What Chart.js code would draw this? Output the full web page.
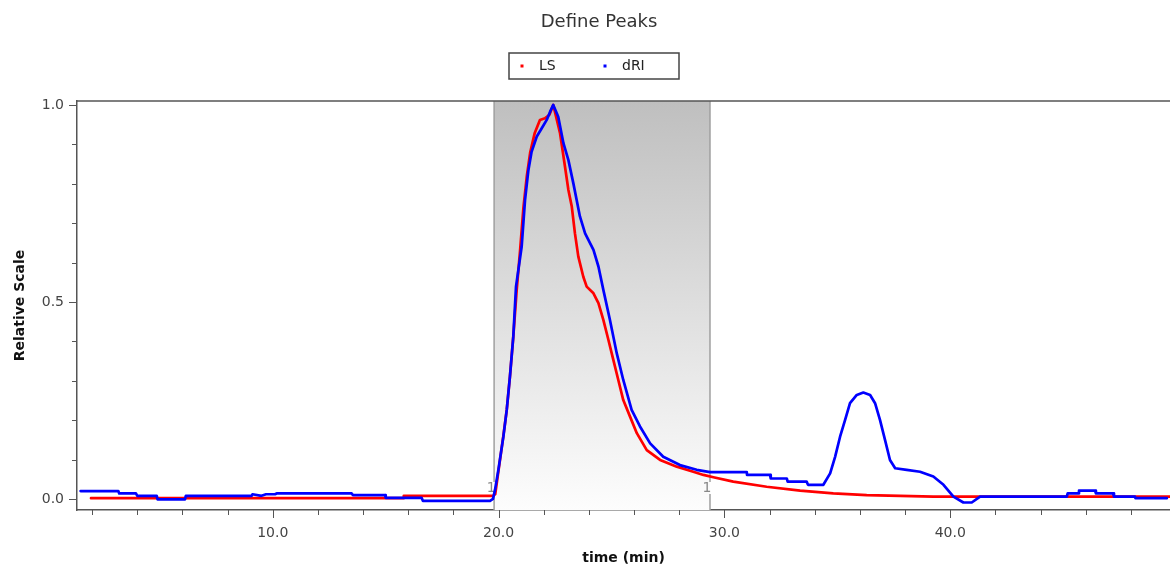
<!DOCTYPE html>
<html>
<head>
<meta charset="utf-8">
<title>Define Peaks</title>
<script src="https://cdn.jsdelivr.net/npm/chart.js@4.4.1/dist/chart.umd.min.js"></script>
<style>
  html, body { margin: 0; padding: 0; background: #fff; }
  #wrap { width: 1170px; height: 570px; }
</style>
</head>
<body>
<div id="wrap"><canvas id="peaksChart" width="1170" height="570"></canvas></div>
<script>
// data
const chartTitle = 'Define Peaks';
const seriesNames = ['LS', 'dRI'];
const seriesColors = ['#ff0000', '#0000ff'];

const lsTime = [1.95, 15.77, 15.8, 19.75, 19.85, 19.99, 20.21, 20.36, 20.5, 20.65, 20.8, 20.95, 21.1, 21.25, 21.4,
  21.6, 21.83, 22.05, 22.25, 22.42, 22.72, 22.94, 23.09, 23.24, 23.38, 23.53, 23.75, 23.9, 24.2, 24.42, 24.64,
  24.86, 25.08, 25.3, 25.52, 25.82, 26.12, 26.56, 27.15, 27.89, 28.62, 29.07, 29.51, 30.39, 31.87, 33.35,
  34.82, 36.3, 37.78, 39.25, 41.32, 45.0, 49.73];
const lsValue = [0.002, 0.002, 0.008, 0.008, 0.012, 0.07, 0.16, 0.226, 0.31, 0.412, 0.53, 0.63, 0.74, 0.82, 0.88,
  0.929, 0.962, 0.966, 0.975, 1.0, 0.928, 0.843, 0.784, 0.742, 0.674, 0.615, 0.564, 0.539, 0.522, 0.497, 0.454,
  0.404, 0.353, 0.302, 0.251, 0.209, 0.167, 0.124, 0.099, 0.082, 0.069, 0.061, 0.055, 0.044, 0.031, 0.021,
  0.014, 0.010, 0.008, 0.006, 0.006, 0.006, 0.006];

const driTime = [1.49, 3.16, 3.2, 3.94, 4.0, 4.86, 4.9, 6.11, 6.15, 9.07, 9.1, 9.5, 9.7, 10.1, 10.17, 13.49, 13.55,
  14.97, 15.0, 16.59, 16.65, 19.62, 19.75, 19.84, 19.99, 20.21, 20.36, 20.5, 20.65, 20.77, 21.02, 21.17, 21.32,
  21.46, 21.69, 21.91, 22.13, 22.28, 22.42, 22.64, 22.87, 23.09, 23.31, 23.6, 23.83, 24.2, 24.42, 24.64, 24.93,
  25.23, 25.52, 25.89, 26.26, 26.71, 27.29, 28.03, 28.77, 29.36, 30.99, 31.0, 32.02, 32.05, 32.76, 32.8, 33.64,
  33.7, 34.38, 34.68, 34.9, 35.12, 35.34, 35.56, 35.86, 36.15, 36.45, 36.67, 36.89, 37.11, 37.33, 37.56, 38.07,
  38.66, 39.25, 39.7, 40.14, 40.58, 40.95, 41.32, 45.16, 45.2, 45.66, 45.7, 46.41, 46.45, 47.21, 47.25, 48.18,
  48.2, 49.59];
const driValue = [0.020, 0.020, 0.014, 0.014, 0.008, 0.008, -0.001, -0.001, 0.008, 0.008, 0.012, 0.008, 0.012, 0.012,
  0.014, 0.014, 0.010, 0.010, 0.003, 0.003, -0.005, -0.005, 0.0, 0.023, 0.074, 0.158, 0.226, 0.310, 0.412, 0.539,
  0.640, 0.759, 0.835, 0.881, 0.920, 0.941, 0.962, 0.983, 1.0, 0.970, 0.903, 0.860, 0.801, 0.717, 0.674, 0.632,
  0.590, 0.530, 0.454, 0.370, 0.302, 0.226, 0.184, 0.141, 0.107, 0.086, 0.074, 0.068, 0.068, 0.061, 0.061, 0.052,
  0.052, 0.044, 0.044, 0.036, 0.036, 0.065, 0.107, 0.158, 0.200, 0.243, 0.264, 0.270, 0.264, 0.243, 0.200, 0.150,
  0.099, 0.078, 0.074, 0.069, 0.057, 0.036, 0.006, -0.009, -0.009, 0.006, 0.006, 0.014, 0.014, 0.021, 0.021, 0.014,
  0.014, 0.006, 0.006, 0.002, 0.002];

const xTickLabels = [10, 20, 30, 40];
const yTickLabels = [0, 0.5, 1];
const peakStart = 19.8;
const peakEnd = 29.36;
const peakLabel = '1';

function toPoints(xs, ys) {
  return xs.map((x, i) => ({ x: x, y: ys[i] }));
}
function isMajor(list, v) {
  return list.some(m => Math.abs(m - v) < 1e-6);
}

// pita abu-abu untuk daerah puncak
const peakBand = {
  id: 'peakBand',
  beforeDatasetsDraw(chart) {
    const { ctx, chartArea: a, scales: { x } } = chart;
    const x1 = x.getPixelForValue(peakStart);
    const x2 = x.getPixelForValue(peakEnd);
    const g = ctx.createLinearGradient(0, a.top, 0, a.bottom);
    g.addColorStop(0, '#bfbfbf');
    g.addColorStop(1, '#fdfdfd');
    ctx.save();
    ctx.fillStyle = g;
    ctx.fillRect(x1, a.top, x2 - x1, a.bottom - a.top);
    ctx.strokeStyle = '#a0a0a0';
    ctx.lineWidth = 1.5;
    [x1, x2].forEach(px => {
      ctx.beginPath();
      ctx.moveTo(px, a.top);
      ctx.lineTo(px, a.bottom - 28);
      ctx.moveTo(px, a.bottom - 16);
      ctx.lineTo(px, a.bottom);
      ctx.stroke();
    });
    ctx.fillStyle = '#888';
    ctx.font = '14px "DejaVu Sans"';
    ctx.textAlign = 'center';
    ctx.textBaseline = 'middle';
    ctx.fillText(peakLabel, x1 - 3, a.bottom - 22);
    ctx.fillText(peakLabel, x2 - 3, a.bottom - 22);
    ctx.restore();
  }
};

// judul, legenda, garis atas dan tick kecil
const decorations = {
  id: 'decorations',
  afterDraw(chart) {
    const { ctx, chartArea: a, scales: { x, y } } = chart;
    ctx.save();
    ctx.strokeStyle = '#555';
    ctx.lineWidth = 1.5;
    ctx.beginPath();
    ctx.moveTo(a.left, a.top);
    ctx.lineTo(a.right, a.top);
    ctx.stroke();

    ctx.lineWidth = 1;
    ctx.beginPath();
    x.ticks.forEach(t => {
      const px = Math.round(x.getPixelForValue(t.value)) + 0.5;
      ctx.moveTo(px, a.bottom);
      ctx.lineTo(px, a.bottom + (isMajor(xTickLabels, t.value) ? 8 : 5));
    });
    y.ticks.forEach(t => {
      const py = Math.round(y.getPixelForValue(t.value)) + 0.5;
      ctx.moveTo(a.left, py);
      ctx.lineTo(a.left - (isMajor(yTickLabels, t.value) ? 8 : 5), py);
    });
    ctx.stroke();

    // judul
    ctx.fillStyle = '#333';
    ctx.font = '18px "DejaVu Sans"';
    ctx.textAlign = 'center';
    ctx.textBaseline = 'middle';
    ctx.fillText(chartTitle, 599, 22);

    // legenda dengan kotak
    ctx.strokeStyle = '#444';
    ctx.lineWidth = 1.5;
    ctx.strokeRect(509, 53, 170, 26);
    ctx.font = '14px "DejaVu Sans"';
    ctx.textAlign = 'left';
    const itemX = [522, 605];
    seriesNames.forEach((name, i) => {
      ctx.fillStyle = seriesColors[i];
      ctx.fillRect(itemX[i] - 1.5, 64.5, 3, 3);
      ctx.fillStyle = '#222';
      ctx.fillText(name, itemX[i] + 17, 66);
    });
    ctx.restore();
  }
};

const ctx = document.getElementById('peaksChart').getContext('2d');
const peaksChart = new Chart(ctx, {
  type: 'line',
  data: {
    datasets: [
      {
        label: seriesNames[0],
        data: toPoints(lsTime, lsValue),
        borderColor: seriesColors[0],
        borderWidth: 2.7,
        borderJoinStyle: 'round',
        borderCapStyle: 'round',
        pointRadius: 0,
        order: 2
      },
      {
        label: seriesNames[1],
        data: toPoints(driTime, driValue),
        borderColor: seriesColors[1],
        borderWidth: 2.7,
        borderJoinStyle: 'round',
        borderCapStyle: 'round',
        pointRadius: 0,
        order: 1
      }
    ]
  },
  options: {
    responsive: false,
    animation: false,
    layout: { padding: { top: 101, left: 0, right: 0, bottom: 0 } },
    plugins: {
      legend: { display: false },
      title: { display: false },
      tooltip: { enabled: false }
    },
    scales: {
      x: {
        type: 'linear',
        min: 1.33,
        max: 49.73,
        afterFit(scale) { scale.height = 60; },
        grid: { display: true, drawOnChartArea: false, drawTicks: false },
        border: { color: '#555', width: 1.5 },
        ticks: {
          stepSize: 2,
          includeBounds: false,
          autoSkip: false,
          maxRotation: 0,
          padding: 15,
          color: '#444',
          font: { family: 'DejaVu Sans', size: 14 },
          callback: v => isMajor(xTickLabels, v) ? v.toFixed(1) : ''
        },
        title: {
          display: true,
          text: 'time (min)',
          color: '#111',
          font: { family: 'DejaVu Sans', size: 14, weight: 'bold' },
          padding: { top: 0, bottom: 3 }
        }
      },
      y: {
        min: -0.028,
        max: 1.01,
        afterFit(scale) { scale.width = 77; },
        grid: { display: true, drawOnChartArea: false, drawTicks: false },
        border: { color: '#555', width: 1.5 },
        ticks: {
          stepSize: 0.1,
          includeBounds: false,
          autoSkip: false,
          padding: 13,
          color: '#444',
          font: { family: 'DejaVu Sans', size: 14 },
          callback: v => isMajor(yTickLabels, v) ? v.toFixed(1) : ''
        },
        title: {
          display: true,
          text: 'Relative Scale',
          color: '#111',
          font: { family: 'DejaVu Sans', size: 14, weight: 'bold' },
          padding: { top: 12, bottom: 0 }
        }
      }
    }
  },
  plugins: [peakBand, decorations]
});
</script>
</body>
</html>
